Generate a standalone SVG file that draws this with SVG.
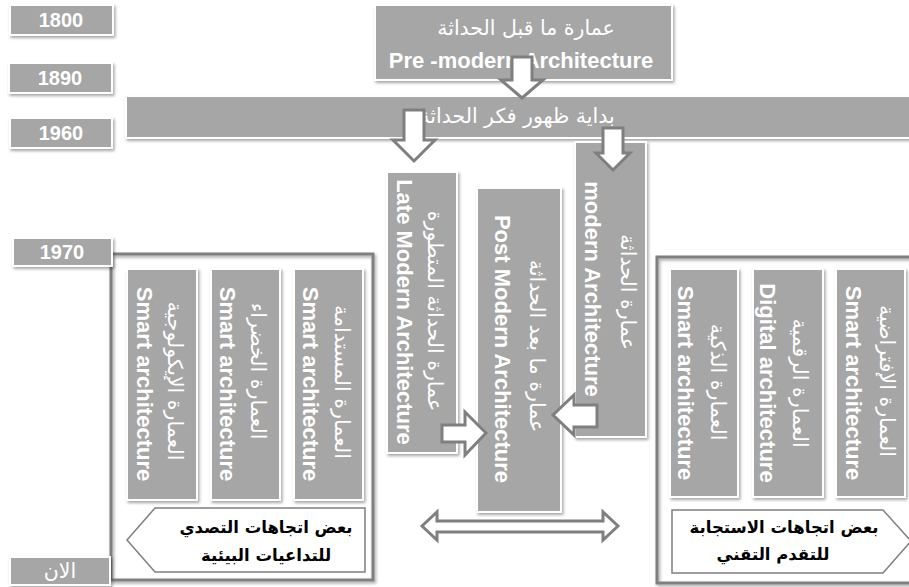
<svg xmlns="http://www.w3.org/2000/svg" width="909" height="587" viewBox="0 0 909 587">
<defs>
<filter id="sh" x="-10%" y="-10%" width="130%" height="130%">
<feDropShadow dx="1.5" dy="2" stdDeviation="1.5" flood-color="#000" flood-opacity="0.35"/>
</filter>
<style>
.box{fill:#a6a6a6;stroke:#ffffff;stroke-width:2;filter:url(#sh)}
.panel{fill:none;stroke:#7f7f7f;stroke-width:3;filter:url(#sh)}
.arrow{fill:#ffffff;stroke:#7f7f7f;stroke-width:3;stroke-linejoin:miter}
.tag{fill:#ffffff;stroke:#7f7f7f;stroke-width:1.5}
.en{font-family:'Liberation Sans',Arial,sans-serif;font-weight:bold;font-size:22px;fill:#ffffff;text-anchor:middle;dominant-baseline:central}
.ar{font-family:'DejaVu Sans',sans-serif;font-size:20.5px;fill:#ffffff;text-anchor:middle;dominant-baseline:central}
.yr{font-family:'Liberation Sans',Arial,sans-serif;font-weight:bold;font-size:20px;fill:#ffffff;text-anchor:middle;dominant-baseline:central}
.tg{font-family:'DejaVu Sans',sans-serif;font-weight:bold;font-size:16.5px;fill:#000000;text-anchor:middle;dominant-baseline:central}
</style>
</defs>
<rect width="909" height="587" fill="#ffffff"/>

<g id="panel-left">
<rect class="panel" x="111" y="254" width="262" height="326"/>
</g>
<g id="panel-right">
<rect class="panel" x="657" y="257" width="260" height="326"/>
</g>

<g id="pre-modern">
<rect class="box" x="375" y="5" width="297" height="75"/>
<text class="ar" x="526" y="28" font-size="21">عمارة ما قبل الحداثة</text>
<text class="en" x="521" y="60">Pre -modern Architecture</text>
</g>

<g id="modern-start">
<rect class="box" x="126" y="96" width="790" height="42"/>
<text class="ar" x="517" y="116" font-size="23.5">بداية ظهور فكر الحداثة</text>
</g>

<g id="late-modern">
<rect class="box" x="387" y="172" width="70" height="281"/>
<text class="ar" transform="translate(435,311) rotate(90)" font-size="21">عمارة الحداثة المتطورة</text>
<text class="en" transform="translate(404,312) rotate(90)">Late Modern Architecture</text>
</g>

<g id="post-modern">
<rect class="box" x="477" y="188" width="84" height="324"/>
<text class="ar" transform="translate(537,346) rotate(90)" font-size="22">عمارة ما بعد الحداثة</text>
<text class="en" transform="translate(502,349) rotate(90)">Post Modern Architecture</text>
</g>

<g id="modern">
<rect class="box" x="575" y="142" width="71" height="295"/>
<text class="ar" transform="translate(628,292) rotate(90)" font-size="21">عمارة الحداثة</text>
<text class="en" transform="translate(592,289) rotate(90)">modern Architecture</text>
</g>

<g id="left-col-1">
<rect class="box" x="127" y="269" width="70" height="231"/>
<text class="ar" transform="translate(175,381) rotate(90)">العمارة الإيكولوجية</text>
<text class="en" transform="translate(144,384) rotate(90)">Smart architecture</text>
</g>
<g id="left-col-2">
<rect class="box" x="211" y="269" width="69" height="231"/>
<text class="ar" transform="translate(258,371) rotate(90)">العمارة الخضراء</text>
<text class="en" transform="translate(227,384) rotate(90)">Smart architecture</text>
</g>
<g id="left-col-3">
<rect class="box" x="294" y="269" width="69" height="231"/>
<text class="ar" transform="translate(342,382) rotate(90)">العمارة المستدامة</text>
<text class="en" transform="translate(310,384) rotate(90)">Smart architecture</text>
</g>

<g id="right-col-1">
<rect class="box" x="670" y="269" width="68" height="228"/>
<text class="ar" transform="translate(718,382) rotate(90)">العمارة الذكية</text>
<text class="en" transform="translate(685,383) rotate(90)">Smart architecture</text>
</g>
<g id="right-col-2">
<rect class="box" x="753" y="269" width="70" height="228"/>
<text class="ar" transform="translate(800,383) rotate(90)">العمارة الرقمية</text>
<text class="en" transform="translate(767,383) rotate(90)">Digital architecture</text>
</g>
<g id="right-col-3">
<rect class="box" x="836" y="269" width="69" height="228"/>
<text class="ar" transform="translate(887,381) rotate(90)">العمارة الإفتراضية</text>
<text class="en" transform="translate(853,383) rotate(90)">Smart architecture</text>
</g>

<g id="tag-left">
<polygon class="tag" points="127,540 155,508 365,508 365,572 155,572"/>
<text class="tg" x="266" y="527" font-size="16">بعض اتجاهات التصدي</text>
<text class="tg" x="266" y="555">للتداعيات البيئية</text>
</g>
<g id="tag-right">
<polygon class="tag" points="672,510 883,510 911,541 883,573 672,573"/>
<text class="tg" x="784" y="527">بعض اتجاهات الاستجابة</text>
<text class="tg" x="773" y="554">للتقدم التقني</text>
</g>

<g id="year-1800">
<rect class="box" x="10" y="5" width="103" height="30"/>
<text class="yr" x="61" y="20">1800</text>
</g>
<g id="year-1890">
<rect class="box" x="9" y="63" width="103" height="30"/>
<text class="yr" x="60" y="78">1890</text>
</g>
<g id="year-1960">
<rect class="box" x="10" y="118" width="102" height="30"/>
<text class="yr" x="61" y="133">1960</text>
</g>
<g id="year-1970">
<rect class="box" x="13" y="238" width="99" height="28"/>
<text class="yr" x="62" y="252">1970</text>
</g>
<g id="year-now">
<rect class="box" x="10" y="557" width="100" height="28"/>
<text class="ar" x="60" y="571" font-size="17">الان</text>
</g>

<g id="connectors">
<polygon class="arrow" points="512,57 532,57 532,80 543,80 522,98 501,80 512,80"/>
<polygon class="arrow" points="404,110 424,110 424,140 435,140 414,161 393,140 404,140"/>
<polygon class="arrow" points="603,128 623,128 623,153 630,153 613,170 596,153 603,153"/>
<polygon class="arrow" points="442,425 465,425 465,412 486,433 465,455 465,442 442,442"/>
<polygon class="arrow" points="597,405 574,405 574,395 553,415 574,435 574,427 597,427"/>
<polygon class="arrow" points="422,526 437,512 437,521 603,521 603,512 618,526 603,540 603,532 437,532 437,540"/>
</g>
</svg>
